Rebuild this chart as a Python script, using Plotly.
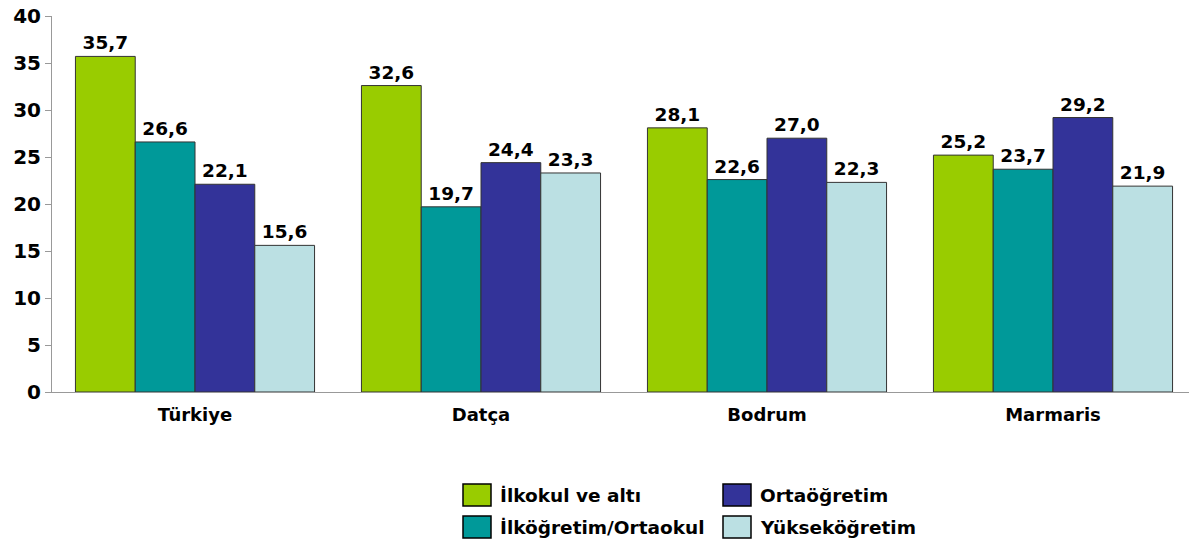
import plotly.graph_objects as go

categories = ["Türkiye", "Datça", "Bodrum", "Marmaris"]
series_names = ["İlkokul ve altı", "İlköğretim/Ortaokul", "Ortaöğretim", "Yükseköğretim"]
ilkokul = [35.7, 32.6, 28.1, 25.2]
ilkogretim = [26.6, 19.7, 22.6, 23.7]
ortaogretim = [22.1, 24.4, 27.0, 29.2]
yuksekogretim = [15.6, 23.3, 22.3, 21.9]
y_ticks = [0, 5, 10, 15, 20, 25, 30, 35, 40]

colors = ["#99CC00", "#009999", "#333399", "#BBE0E3"]
values = [ilkokul, ilkogretim, ortaogretim, yuksekogretim]

FONT = "DejaVu Sans"
OFF = 8  # page body margin
W, H = 1197 - OFF, 543 - OFF
# desired plot area in screen pixels
SL, SR, ST, SB = 52, 1196, 16, 392
ML, MT = SL - OFF, ST - OFF
MR = W - (SR - OFF)
MB = H - (SB - OFF)
PW, PH = W - ML - MR, H - MT - MB

fig = go.Figure()
for name, vals, col in zip(series_names, values, colors):
    fig.add_trace(go.Bar(
        x=categories, y=vals, name=name, showlegend=False,
        marker=dict(color=col, line=dict(color="#333333", width=1)),
        text=[f"{v:.1f}".replace(".", ",") for v in vals],
        textposition="outside", cliponaxis=False,
        textfont=dict(family=FONT, size=18.5, color="black", weight="bold"),
    ))

# custom legend (2 columns x 2 rows), screen-pixel positions
def px_x(x):
    return (x - SL) / PW

def px_y(y):
    return (SB - y) / PH

legend_cols = [463, 723]
legend_rows = [495, 527]
order = [(0, 0), (0, 1), (1, 0), (1, 1)]  # (col,row) for each series
shapes = []
annotations = []
for (c, r), name, col in zip(order, series_names, colors):
    x0 = legend_cols[c]
    yc = legend_rows[r]
    shapes.append(dict(type="rect", xref="paper", yref="paper",
                       x0=px_x(x0), x1=px_x(x0 + 28),
                       y0=px_y(yc + 11), y1=px_y(yc - 11),
                       fillcolor=col, line=dict(color="black", width=1.5)))
    annotations.append(dict(xref="paper", yref="paper", x=px_x(x0 + 35), y=px_y(yc),
                            xanchor="left", yanchor="middle", showarrow=False,
                            text=name,
                            font=dict(family=FONT, size=18.5, color="black", weight="bold")))

fig.update_layout(
    width=W, height=H,
    margin=dict(l=ML, r=MR, t=MT, b=MB, autoexpand=False),
    paper_bgcolor="white", plot_bgcolor="white",
    barmode="group", bargap=0.164, bargroupgap=0,
    font=dict(family=FONT, size=16, color="black", weight="bold"),
    shapes=shapes, annotations=annotations,
    showlegend=False,
)
fig.update_yaxes(range=[0, 40], tickvals=y_ticks, showgrid=False, zeroline=False,
                 showline=True, linecolor="#999999", linewidth=1,
                 ticks="outside", ticklen=6, tickcolor="#999999", automargin=False,
                 ticklabeloverflow="allow",
                 tickfont=dict(family=FONT, size=20, color="black", weight="bold"))
fig.update_xaxes(showline=True, linecolor="#999999", linewidth=1, showgrid=False,
                 ticks="", automargin=False, ticklabelstandoff=6,
                 tickfont=dict(family=FONT, size=18, color="black", weight="bold"))

fig.write_html("out.html")
